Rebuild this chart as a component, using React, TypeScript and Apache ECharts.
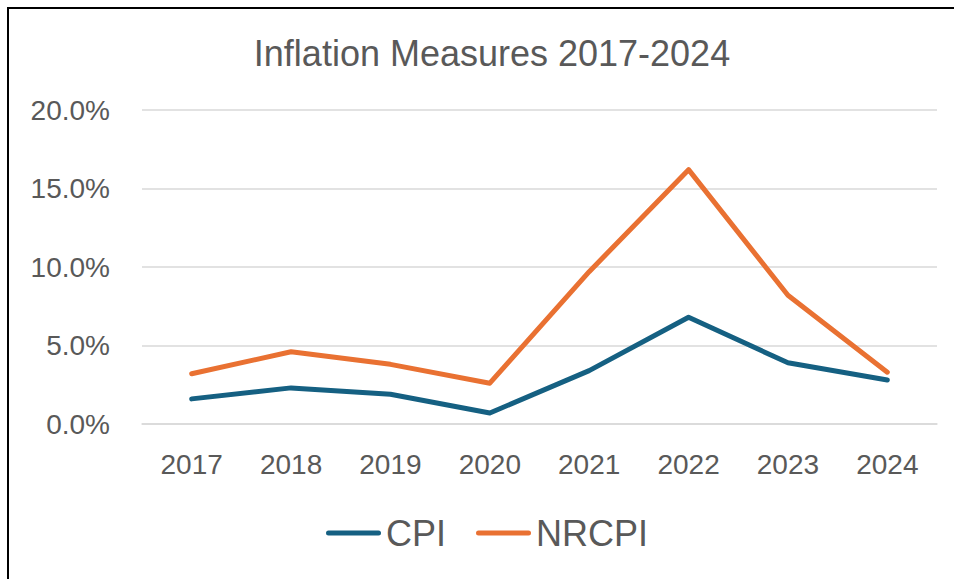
import React, { useEffect, useRef } from "react";
import * as echarts from "echarts";

const years = ["2017", "2018", "2019", "2020", "2021", "2022", "2023", "2024"];
const cpi = [1.6, 2.3, 1.9, 0.7, 3.4, 6.8, 3.9, 2.8];
const nrcpi = [3.2, 4.6, 3.8, 2.6, 9.7, 16.2, 8.2, 3.3];
const yTicks = { min: 0, max: 20, interval: 5 };

const capsule = "path://M2.5,0 L52.5,0 A2.5,2.5 0 0 1 52.5,5 L2.5,5 A2.5,2.5 0 0 1 2.5,0 Z";

export default function App() {
  const ref = useRef<HTMLDivElement>(null);
  useEffect(() => {
    if (!ref.current) return;
    const chart = echarts.init(ref.current, null, { renderer: "svg" });
    const font = "'Liberation Sans', Arial, sans-serif";
    chart.setOption({
      animation: false,
      backgroundColor: "#ffffff",
      title: {
        text: "Inflation Measures 2017-2024",
        left: 487,
        top: 30,
        textAlign: "center",
        textStyle: { fontFamily: font, fontSize: 36, fontWeight: "normal", color: "#595959" },
      },
      legend: {
        left: 326,
        top: 515,
        padding: 0,
        itemWidth: 55,
        itemHeight: 5,
        itemGap: 30,
        icon: capsule,
        textStyle: { fontFamily: font, fontSize: 36, color: "#595959" },
        data: ["CPI", "NRCPI"],
      },
      grid: { left: 142, right: 17, top: 110, bottom: 155, containLabel: false },
      xAxis: {
        type: "category",
        data: years,
        boundaryGap: true,
        axisLine: { lineStyle: { color: "#D9D9D9", width: 1.5 } },
        axisTick: { show: false },
        axisLabel: { fontFamily: font, fontSize: 28, color: "#595959", margin: 26 },
      },
      yAxis: {
        type: "value",
        min: yTicks.min,
        max: yTicks.max,
        interval: yTicks.interval,
        axisLine: { show: false },
        axisTick: { show: false },
        splitLine: { lineStyle: { color: "#D9D9D9", width: 1.5 } },
        axisLabel: {
          fontFamily: font,
          fontSize: 28,
          color: "#595959",
          margin: 32,
          formatter: (v: number) => `${v.toFixed(1)}%`,
        },
      },
      series: [
        {
          name: "CPI",
          type: "line",
          data: cpi,
          symbol: "none",
          itemStyle: { color: "#156082" },
          lineStyle: { color: "#156082", width: 5, cap: "round", join: "round" },
        },
        {
          name: "NRCPI",
          type: "line",
          data: nrcpi,
          symbol: "none",
          itemStyle: { color: "#E97132" },
          lineStyle: { color: "#E97132", width: 5, cap: "round", join: "round" },
        },
      ],
      graphic: [
        { type: "line", shape: { x1: 7, y1: 8, x2: 954, y2: 8 }, style: { stroke: "#000000", lineWidth: 2 } },
        { type: "line", shape: { x1: 8, y1: 7, x2: 8, y2: 579 }, style: { stroke: "#000000", lineWidth: 2 } },
      ],
    });
    return () => chart.dispose();
  }, []);
  return (
    <div
      ref={ref}
      style={{ position: "fixed", left: 0, top: 0, width: 954, height: 579, background: "#fff" }}
    />
  );
}
